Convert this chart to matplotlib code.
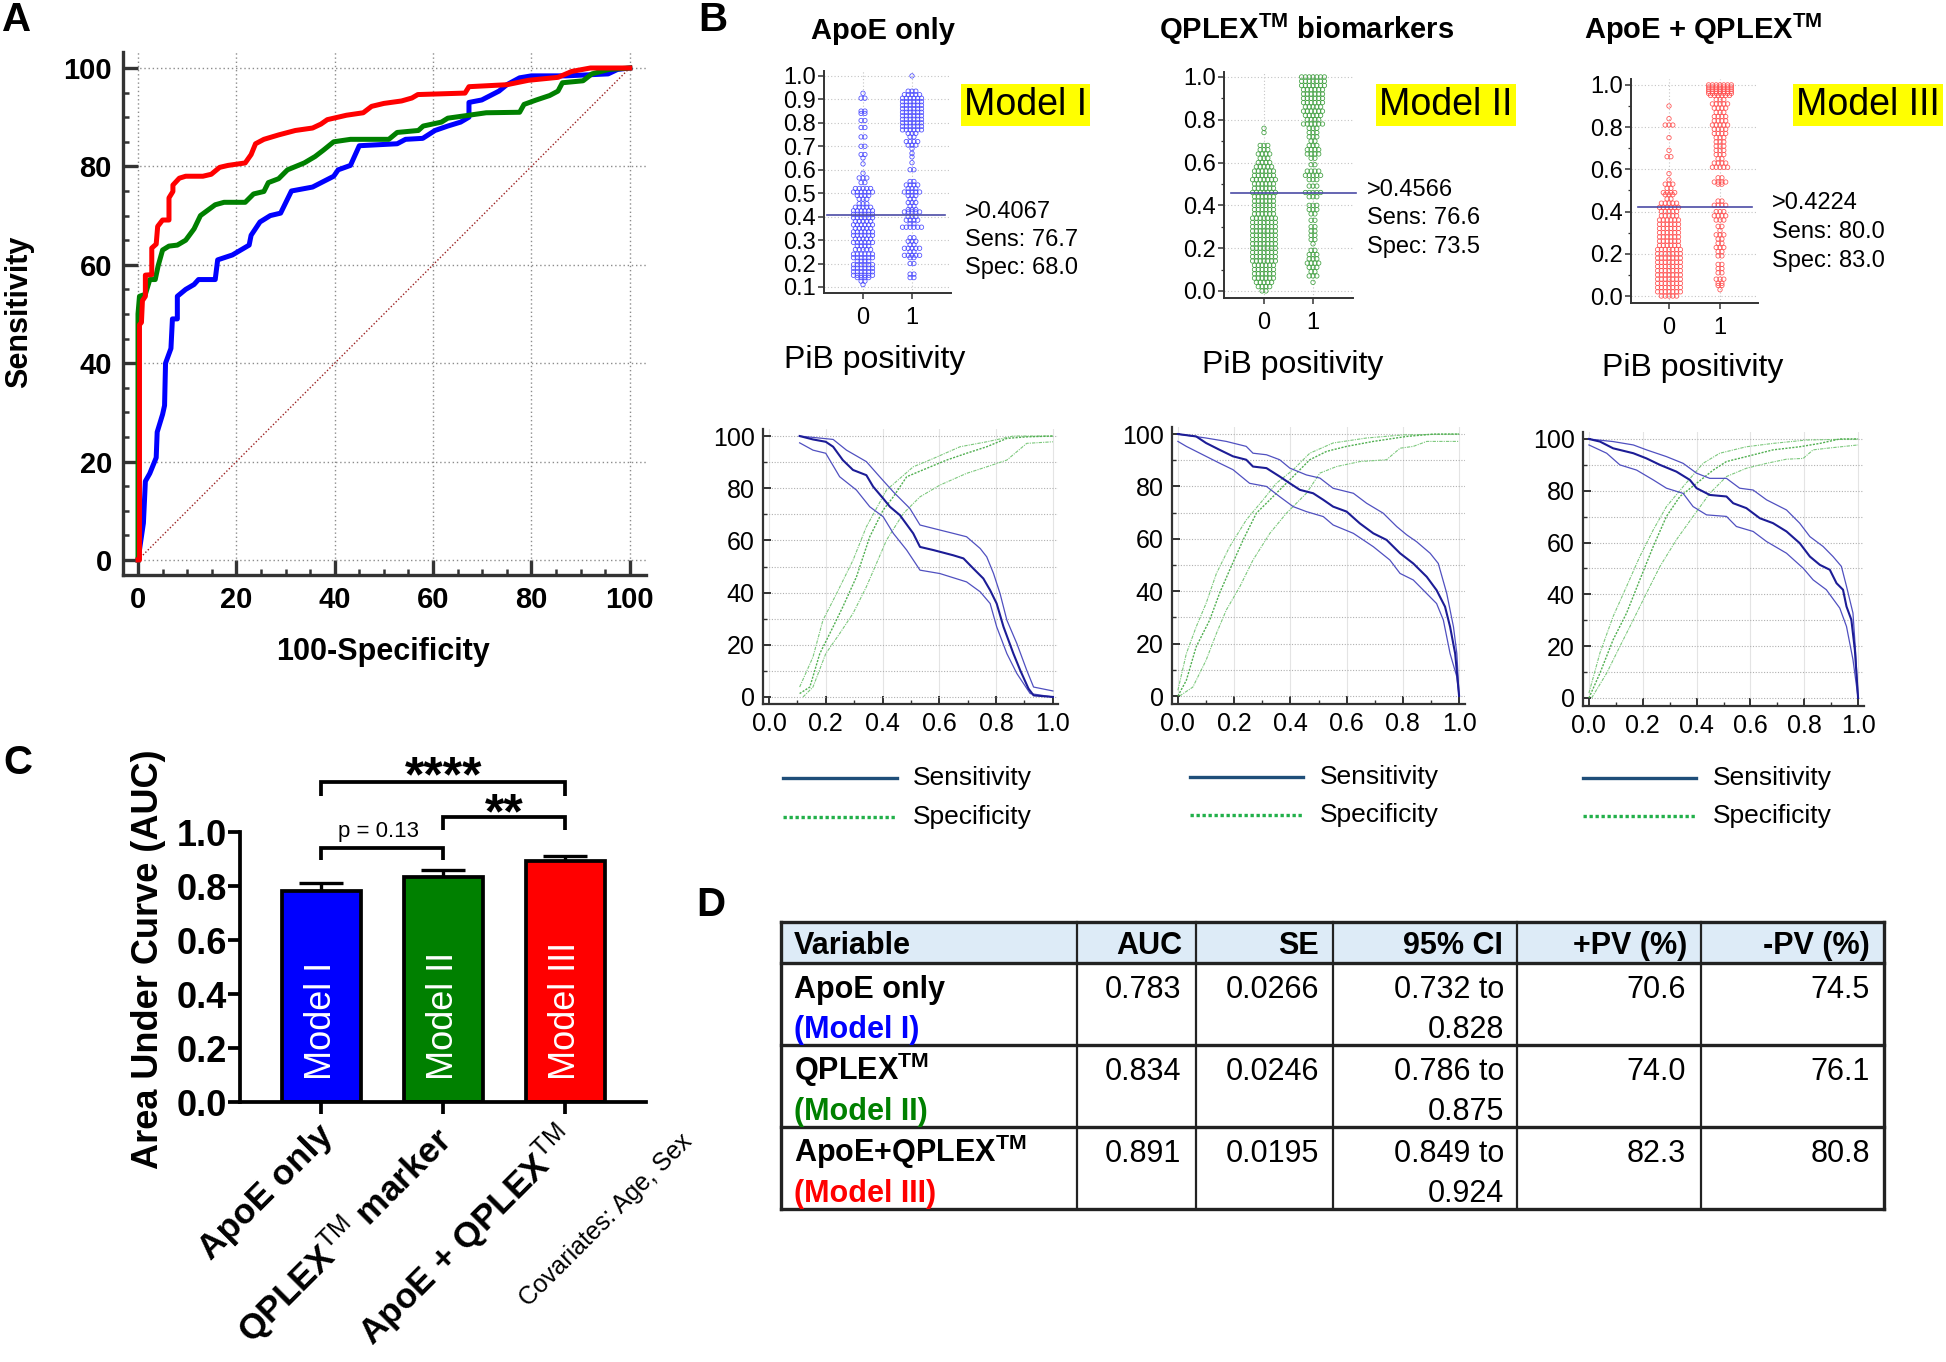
import numpy as np
import matplotlib
matplotlib.use("Agg")
import matplotlib.pyplot as plt
from matplotlib.lines import Line2D
from matplotlib.patches import Rectangle
from matplotlib.ticker import MultipleLocator

# ======================= DATA =======================
# Panel A: ROC curves (100-Specificity, Sensitivity)
roc_apoe_fpr = [0, 1.1, 1.5, 2.4, 3.7, 3.9, 5.0, 5.4, 5.6, 6.7, 7.0, 8.0, 8.0, 9.7, 11.4, 12.3, 15.7, 16.2, 19.2, 22.6,
                23.0, 24.8, 26.9, 29.0, 31.2, 35.5, 39.8, 40.7, 43.2, 45.0, 52.7, 54.4, 57.9, 60.4, 63.0, 65.6, 67.3,
                67.3, 69.9, 73.4, 75.0, 77.6, 80.0, 87.0, 95.6, 97.5, 100]
roc_apoe_tpr = [0, 7.5, 16, 17.6, 20.8, 26, 29.6, 31.4, 40, 43, 49, 49, 53.6, 55, 56, 57, 57, 61, 62, 64,
                66, 68.7, 70, 70.5, 75, 75.8, 78, 79.3, 80.2, 84.2, 84.6, 85.5, 85.7, 87.3, 88.2, 89, 90,
                93, 93.5, 95.3, 96.6, 98, 98.4, 98.4, 98.8, 99.7, 100]
roc_qplex_fpr = [0, 0, 0, 0.3, 1.5, 2.4, 3.5, 4.1, 5.0, 6.3, 8.0, 9.7, 11.4, 12.7, 15.7, 17.5, 21.8, 23.5, 25.6, 26.5,
                 28.6, 30.4, 33.8, 36.0, 37.7, 39.8, 43.2, 51.0, 52.7, 57.0, 58.0, 61.7, 63.0, 67.3, 70.8, 77.6,
                 78.5, 81.0, 83.7, 85.4, 86.3, 90.5, 92.3, 95.7, 100]
roc_qplex_tpr = [0, 48, 50, 53.6, 54, 57, 57, 59.8, 63, 63.8, 64, 65, 67.3, 70, 72.2, 72.7, 72.7, 74.4, 74.9, 76.7,
                 77.5, 79.3, 80.7, 82, 83.3, 85, 85.5, 85.5, 86.9, 87.3, 88.2, 89, 89.8, 90.4, 90.9, 91,
                 92.6, 93.5, 94.4, 95.3, 97, 97.4, 98.8, 99.7, 100]
roc_combo_fpr = [0, 0.3, 0.3, 0.7, 0.9, 1.5, 1.5, 2.8, 2.8, 3.7, 4.0, 5.0, 6.3, 6.3, 7.1, 7.1, 8.4, 9.7, 13.2, 14.9,
                 16.6, 18.3, 21.8, 23.0, 23.9, 25.6, 28.6, 32.0, 35.5, 37.2, 38.5, 42.4, 45.8, 47.5, 50.0, 53.6,
                 55.7, 56.9, 66.5, 67.3, 75.0, 79.4, 85.4, 88.2, 92.0, 100]
roc_combo_tpr = [0, 0, 47.8, 48.3, 52.7, 53.6, 57.9, 58, 63.4, 64.2, 67.8, 69.1, 69.1, 73.6, 74.9, 76.2, 77.6, 78, 78,
                 78.4, 79.8, 80.2, 80.7, 82.4, 84.6, 85.5, 86.4, 87.3, 87.8, 88.6, 89.5, 90.4, 90.9, 92.2, 92.8,
                 93.3, 93.9, 94.6, 94.9, 96.2, 96.6, 97.5, 98.1, 99.3, 100, 100]

# Panel B (top): dot plots, rows of predicted probability and number of subjects in each row
m1_neg_vals = [0.926, 0.905, 0.85, 0.84, 0.81, 0.78, 0.74, 0.70, 0.665, 0.65, 0.625, 0.585, 0.565, 0.545, 0.52,
               0.505, 0.49, 0.475, 0.455, 0.44, 0.425, 0.41, 0.395, 0.38, 0.365, 0.35, 0.335, 0.32, 0.305, 0.29,
               0.275, 0.26, 0.24, 0.225, 0.21, 0.195, 0.18, 0.165, 0.15, 0.14, 0.125, 0.11]
m1_neg_counts = [1, 2, 2, 2, 2, 2, 2, 2, 2, 1, 1, 1, 3, 2, 5, 6, 4, 3, 3, 5, 6, 6, 6, 5, 6, 5, 6, 6, 5, 6,
                 4, 5, 6, 6, 4, 6, 6, 6, 6, 4, 2, 1]
m1_pos_vals = [1.0, 0.935, 0.92, 0.905, 0.89, 0.875, 0.86, 0.845, 0.83, 0.815, 0.80, 0.785, 0.77, 0.755, 0.74,
               0.72, 0.705, 0.69, 0.67, 0.655, 0.63, 0.60, 0.55, 0.535, 0.52, 0.505, 0.49, 0.475, 0.46, 0.445,
               0.43, 0.42, 0.40, 0.385, 0.37, 0.355, 0.31, 0.295, 0.28, 0.265, 0.25, 0.235, 0.225, 0.20, 0.155, 0.14]
m1_pos_counts = [1, 3, 5, 6, 6, 6, 6, 6, 6, 6, 6, 6, 6, 3, 2, 4, 3, 1, 1, 1, 1, 2, 2, 4, 3, 5, 3, 2, 3, 2,
                 3, 5, 3, 4, 2, 6, 2, 3, 2, 5, 2, 5, 2, 2, 2, 2]
m2_neg_vals = [0.76, 0.74, 0.68, 0.66, 0.64, 0.62, 0.60, 0.58, 0.56, 0.54, 0.52, 0.50, 0.48, 0.46, 0.44, 0.42,
               0.40, 0.38, 0.36, 0.34, 0.32, 0.30, 0.28, 0.26, 0.24, 0.22, 0.20, 0.18, 0.16, 0.14, 0.12, 0.10,
               0.08, 0.06, 0.04, 0.02, 0.00]
m2_neg_counts = [1, 1, 3, 3, 4, 3, 4, 5, 6, 6, 7, 6, 6, 7, 6, 6, 6, 6, 6, 7, 7, 7, 7, 7, 7, 7, 7, 7, 7, 7,
                 6, 6, 6, 6, 5, 4, 2]
m2_pos_vals = [1.0, 0.98, 0.96, 0.94, 0.92, 0.90, 0.88, 0.86, 0.84, 0.82, 0.80, 0.78, 0.76, 0.74, 0.72, 0.70,
               0.68, 0.66, 0.64, 0.62, 0.59, 0.56, 0.54, 0.52, 0.49, 0.46, 0.44, 0.40, 0.38, 0.36, 0.33, 0.30,
               0.28, 0.26, 0.24, 0.22, 0.19, 0.17, 0.15, 0.13, 0.11, 0.09, 0.07, 0.04]
m2_pos_counts = [7, 7, 7, 6, 6, 6, 6, 5, 6, 5, 4, 6, 3, 3, 3, 2, 3, 4, 4, 2, 2, 4, 5, 3, 3, 5, 3, 3, 3, 2,
                 2, 2, 2, 2, 2, 1, 2, 3, 3, 4, 3, 2, 3, 1]
m3_neg_vals = [0.90, 0.84, 0.81, 0.75, 0.69, 0.66, 0.58, 0.55, 0.53, 0.51, 0.49, 0.48, 0.46, 0.44, 0.42, 0.40,
               0.38, 0.36, 0.34, 0.32, 0.30, 0.28, 0.26, 0.24, 0.22, 0.20, 0.18, 0.16, 0.14, 0.12, 0.10, 0.08,
               0.06, 0.04, 0.02, 0.00]
m3_neg_counts = [1, 1, 3, 1, 1, 2, 1, 1, 3, 2, 4, 3, 2, 5, 6, 5, 5, 6, 6, 6, 6, 6, 6, 6, 7, 7, 7, 7, 7, 7,
                 7, 7, 7, 7, 7, 5]
m3_pos_vals = [1.0, 0.99, 0.98, 0.97, 0.96, 0.95, 0.93, 0.91, 0.89, 0.87, 0.85, 0.83, 0.81, 0.79, 0.77, 0.75,
               0.73, 0.71, 0.69, 0.67, 0.65, 0.63, 0.61, 0.56, 0.54, 0.53, 0.45, 0.43, 0.40, 0.38, 0.36, 0.33,
               0.31, 0.29, 0.27, 0.25, 0.23, 0.21, 0.19, 0.15, 0.13, 0.11, 0.08, 0.06, 0.05, 0.03]
m3_pos_counts = [7, 7, 7, 7, 7, 6, 3, 5, 4, 3, 4, 4, 5, 4, 4, 3, 3, 3, 3, 3, 2, 4, 5, 2, 4, 2, 2, 4, 3, 4,
                 3, 2, 1, 3, 2, 2, 3, 2, 2, 2, 2, 2, 3, 2, 2, 1]

model_titles = ["ApoE only", r"QPLEX$^{\mathbf{TM}}$ biomarkers", r"ApoE + QPLEX$^{\mathbf{TM}}$"]
model_names = ["Model I", "Model II", "Model III"]
cutoffs = [0.4067, 0.4566, 0.4224]
cut_sens = [76.7, 76.6, 80.0]
cut_spec = [68.0, 73.5, 83.0]

# Panel B (bottom): sensitivity / specificity vs. criterion, with 95% CI
m1_sens_x = [0.108, 0.155, 0.2, 0.226, 0.26, 0.296, 0.343, 0.367, 0.402, 0.426, 0.461, 0.508, 0.532, 0.579,
             0.649, 0.685, 0.72, 0.755, 0.779, 0.802, 0.826, 0.861, 0.885, 0.914, 0.932, 1.0]
m1_sens_y = [100, 98.7, 97.8, 95.9, 90.8, 87, 85, 80.6, 76.1, 72.9, 69.7, 62.7, 57.5, 56.3, 54.3, 53.1, 49.2,
             45.4, 40.9, 35.8, 26.9, 16.6, 10.2, 3.2, 0.6, 0]
m1_sens_hi_x = [0.108, 0.226, 0.273, 0.343, 0.39, 0.438, 0.496, 0.532, 0.579, 0.649, 0.696, 0.744, 0.767, 0.791,
                0.814, 0.838, 0.873, 0.908, 0.932, 1.0]
m1_sens_hi_y = [100, 98.7, 94.6, 90.2, 84.4, 78.6, 72.3, 65.9, 64.6, 62.7, 61.4, 56.9, 53.7, 47.3, 39.6, 29.4,
                20.5, 10.2, 3.8, 2.3]
m1_sens_lo_x = [0.108, 0.155, 0.2, 0.249, 0.308, 0.355, 0.402, 0.438, 0.485, 0.532, 0.602, 0.696, 0.744, 0.779,
                0.802, 0.838, 0.873, 0.92, 1.0]
m1_sens_lo_y = [97.4, 94.6, 93.4, 84.4, 79.3, 72.9, 69.1, 62.7, 56.3, 48.6, 47.3, 44.1, 40.3, 35.8, 26.9, 16.6,
                9, 1.3, 0]
m1_spec_x = [0.108, 0.144, 0.179, 0.226, 0.26, 0.308, 0.355, 0.402, 0.438, 0.485, 0.555, 0.626, 0.696, 0.767,
             0.838, 0.908, 1.0]
m1_spec_y = [1.3, 3.8, 16.6, 26.9, 34.5, 46, 61.4, 71.6, 76.7, 84.4, 87.6, 90.8, 93.4, 95.9, 99.1, 99.7, 100]
m1_spec_hi_x = [0.108, 0.155, 0.19, 0.238, 0.296, 0.343, 0.414, 0.508, 0.579, 0.673, 0.767, 0.861, 1.0]
m1_spec_hi_y = [3.8, 15.3, 29.4, 39.6, 52.4, 65.2, 79.3, 88.2, 91.4, 95.9, 97.8, 100, 100]
m1_spec_lo_x = [0.12, 0.155, 0.2, 0.249, 0.296, 0.343, 0.414, 0.473, 0.532, 0.602, 0.696, 0.767, 0.838, 0.908, 1.0]
m1_spec_lo_y = [0, 3.8, 16.6, 24.3, 32, 42.2, 60.1, 70.3, 76.7, 81.2, 85.7, 88.2, 90.8, 97.2, 97.8]

m2_sens_x = [0, 0.065, 0.1, 0.148, 0.196, 0.243, 0.267, 0.315, 0.362, 0.398, 0.434, 0.481, 0.517, 0.552, 0.6,
             0.647, 0.695, 0.742, 0.79, 0.837, 0.885, 0.92, 0.95, 0.968, 0.986, 1.0]
m2_sens_y = [100, 99.1, 96.6, 94, 91.5, 90.2, 87.6, 87, 83.8, 81.2, 78.7, 77.4, 74.9, 72.3, 70.4, 65.9, 62.1,
             59.6, 54.5, 50.6, 45.5, 40.4, 34.1, 26.4, 16.2, 0]
m2_sens_hi_x = [0, 0.1, 0.172, 0.243, 0.267, 0.315, 0.362, 0.398, 0.457, 0.505, 0.552, 0.624, 0.671, 0.73, 0.778,
                0.814, 0.849, 0.897, 0.926, 0.956, 0.98, 0.992, 1.0]
m2_sens_hi_y = [100, 98.5, 97.2, 95.3, 92.7, 92.1, 90.2, 87, 84.4, 83.2, 79.3, 77.4, 73.6, 69.8, 64.7, 61.5,
                58.9, 54.5, 50.6, 39.2, 26.4, 16.2, 0]
m2_sens_lo_x = [0, 0.03, 0.1, 0.148, 0.196, 0.255, 0.315, 0.362, 0.41, 0.457, 0.517, 0.552, 0.624, 0.695, 0.754,
                0.79, 0.837, 0.873, 0.92, 0.944, 0.968, 0.992, 1.0]
m2_sens_lo_y = [97.2, 95.3, 91.5, 88.9, 86.4, 81.2, 80, 76.1, 72.3, 70.4, 68.5, 65.3, 62.1, 57, 51.9, 46.8,
                44.3, 40.4, 35.3, 29, 16.2, 7.3, 0]
m2_spec_x = [0, 0.03, 0.065, 0.113, 0.148, 0.184, 0.232, 0.279, 0.327, 0.374, 0.422, 0.469, 0.529, 0.6, 0.695,
             0.814, 0.909, 1.0]
m2_spec_y = [0, 6, 18.8, 29, 39.2, 48.1, 59.6, 69.8, 74.9, 80, 85.1, 90.2, 93.4, 95.3, 97.2, 99.1, 100, 100]
m2_spec_hi_x = [0, 0.03, 0.065, 0.1, 0.137, 0.184, 0.243, 0.303, 0.35, 0.41, 0.469, 0.552, 0.671, 0.802, 1.0]
m2_spec_hi_y = [2.2, 16.2, 26.4, 35.3, 46.8, 57, 67.2, 74.9, 81.2, 86.4, 92.7, 96.6, 98.5, 99.7, 100]
m2_spec_lo_x = [0.006, 0.053, 0.1, 0.137, 0.172, 0.22, 0.267, 0.327, 0.386, 0.457, 0.505, 0.564, 0.647, 0.742,
                0.79, 0.837, 0.885, 1.0]
m2_spec_lo_y = [0, 3.4, 13.6, 23.9, 32.8, 41.7, 51.9, 62.1, 69.8, 77.4, 85.1, 87.6, 89.5, 90.2, 94.6, 95.3,
                97.2, 97.2]

m3_sens_x = [0, 0.041, 0.09, 0.165, 0.214, 0.264, 0.325, 0.375, 0.4, 0.449, 0.511, 0.536, 0.585, 0.635, 0.684,
             0.734, 0.783, 0.821, 0.858, 0.895, 0.92, 0.944, 0.957, 0.975, 0.988, 1.0]
m3_sens_y = [100, 99, 96.4, 94.5, 92.5, 90, 87.4, 84.2, 81, 78.4, 77.8, 75.2, 73.3, 69.4, 67.5, 64.3, 59.8,
             54.6, 51.4, 49.5, 44.3, 41.8, 35.3, 30.2, 18.6, 0]
m3_sens_hi_x = [0, 0.09, 0.165, 0.214, 0.288, 0.35, 0.4, 0.449, 0.511, 0.56, 0.61, 0.66, 0.734, 0.783, 0.821,
                0.87, 0.907, 0.938, 0.957, 0.981, 0.991, 1.0]
m3_sens_hi_y = [100, 99, 97.7, 95.8, 93.2, 90.6, 86.8, 84.8, 84.8, 81, 80.3, 76.5, 72.6, 67.5, 62.3, 58.5,
                54.6, 50.8, 43.1, 32.8, 17.4, 0]
m3_sens_lo_x = [0, 0.066, 0.115, 0.177, 0.239, 0.288, 0.35, 0.387, 0.437, 0.511, 0.548, 0.61, 0.66, 0.734,
                0.796, 0.833, 0.882, 0.932, 0.957, 0.981, 1.0]
m3_sens_lo_y = [97.7, 94.5, 90, 88, 84.2, 81, 79, 73.9, 70.7, 70.1, 66.2, 64.3, 60.4, 55.9, 50.1, 45.6, 41.8,
                34.7, 27.6, 14.8, 0]
m3_spec_x = [0, 0.041, 0.09, 0.14, 0.189, 0.239, 0.288, 0.338, 0.4, 0.462, 0.511, 0.585, 0.684, 0.783, 0.858,
             0.932, 1.0]
m3_spec_y = [0, 9.6, 22.5, 32.8, 45.6, 58.5, 70.1, 77.8, 82.9, 88, 91.3, 93.2, 95.8, 97, 98.3, 100, 100]
m3_spec_hi_x = [0, 0.041, 0.09, 0.14, 0.189, 0.239, 0.288, 0.35, 0.424, 0.486, 0.585, 0.684, 0.808, 1.0]
m3_spec_hi_y = [1.9, 17.4, 31.5, 43.1, 54.6, 64.9, 73.9, 81.6, 90.6, 94.5, 97, 98.3, 99.6, 100]
m3_spec_lo_x = [0.01, 0.066, 0.115, 0.165, 0.214, 0.264, 0.325, 0.387, 0.449, 0.511, 0.585, 0.66, 0.734, 0.796,
                0.833, 0.882, 1.0]
m3_spec_lo_y = [0, 9.6, 19.9, 30.2, 40.5, 50.8, 61.1, 70.1, 79, 85.5, 88.7, 90.6, 92.2, 92.5, 95.8, 96.4, 97.7]

# Panel C: AUC bars
c_labels = ["ApoE only", r"QPLEX$^{\mathrm{TM}}$ marker", r"ApoE + QPLEX$^{\mathrm{TM}}$"]
auc_vals = [0.783, 0.834, 0.891]
se_vals = [0.0266, 0.0246, 0.0195]

# Panel D: table
table_vars = ["ApoE only", r"QPLEX$^{\mathbf{TM}}$", r"ApoE+QPLEX$^{\mathbf{TM}}$"]
table_models = ["(Model I)", "(Model II)", "(Model III)"]
table_headers = ["Variable", "AUC", "SE", "95% CI", "+PV (%)", "-PV (%)"]
ci_low = [0.732, 0.786, 0.849]
ci_high = [0.828, 0.875, 0.924]
ppv_vals = [70.6, 74.0, 82.3]
npv_vals = [74.5, 76.1, 80.8]

model_colors = ["#0000ff", "#008000", "#ff0000"]
dot_colors = ["#4a4aff", "#3f9f3f", "#ff5050"]

# ======================= FIGURE =======================
W, H = 1946, 1362
plt.rcParams['font.family'] = ['Liberation Sans', 'DejaVu Sans']
plt.rcParams['mathtext.fontset'] = 'custom'
plt.rcParams['mathtext.rm'] = 'Liberation Sans'
plt.rcParams['mathtext.bf'] = 'Liberation Sans:bold'
plt.rcParams['mathtext.it'] = 'Liberation Sans:italic'
plt.rcParams['axes.unicode_minus'] = False

fig = plt.figure(figsize=(W / 100, H / 100), dpi=100)
fig.patch.set_facecolor('white')
DARK = '#333333'


def add_ax(l, t, r, b):
    return fig.add_axes([l / W, 1 - b / H, (r - l) / W, (b - t) / H])


def ftext(x, y, s, **kw):
    kw.setdefault('ha', 'center')
    kw.setdefault('va', 'center')
    return fig.text(x / W, 1 - y / H, s, **kw)


def fline(x0, x1, y, **kw):
    fig.add_artist(Line2D([x0 / W, x1 / W], [1 - y / H, 1 - y / H], transform=fig.transFigure, **kw))


def clean(ax, lw, color=DARK):
    for s in ('top', 'right'):
        ax.spines[s].set_visible(False)
    for s in ('left', 'bottom'):
        ax.spines[s].set_linewidth(lw)
        ax.spines[s].set_color(color)


# ---------------- Panel A ----------------
axA = add_ax(123, 52, 646, 575)
clean(axA, 2.4)
axA.set_xlim(-3.05, 103.3)
axA.set_ylim(-3.05, 103.25)
axA.set_axisbelow(True)
axA.grid(True, which='major', ls=(0, (1, 2)), color='#8c8c8c', lw=1.0)
axA.plot([0, 100], [0, 100], color='#9b2020', lw=1.0, ls=(0, (1, 1.5)), zorder=2)
axA.plot(roc_apoe_fpr, roc_apoe_tpr, color=model_colors[0], lw=3.6, zorder=3)
axA.plot(roc_qplex_fpr, roc_qplex_tpr, color=model_colors[1], lw=3.6, zorder=4)
axA.plot(roc_combo_fpr, roc_combo_tpr, color=model_colors[2], lw=3.6, zorder=5)
ticksA = [0, 20, 40, 60, 80, 100]
axA.set_xticks(ticksA)
axA.set_yticks(ticksA)
axA.xaxis.set_minor_locator(MultipleLocator(5))
axA.yaxis.set_minor_locator(MultipleLocator(5))
axA.tick_params(which='major', direction='in', length=10.5, width=2.4, color=DARK, labelsize=21, pad=8)
axA.tick_params(which='minor', direction='in', length=4.5, width=1.8, color=DARK)
for t in axA.get_xticklabels() + axA.get_yticklabels():
    t.set_fontweight('bold')
ftext(19, 312, 'Sensitivity', rotation=90, fontsize=22, fontweight='bold')
ftext(383, 652, '100-Specificity', fontsize=22, fontweight='bold')
ftext(17, 20, 'A', fontsize=29, fontweight='bold')

# ---------------- Panel B top: dot plots ----------------
dot_layout = [
    dict(box=(824, 71, 951, 293), x0px=863, x1px=912, xlim=(-0.796, 1.796), ylim=(0.0744, 1.021),
         yticks=[0.1, 0.2, 0.3, 0.4, 0.5, 0.6, 0.7, 0.8, 0.9, 1.0], yminor=None, cutx=(-0.73, 1.67),
         title_xy=(883, 39), box_xy=(1025, 105), ann_x=965, ann_y=(212, 240, 268), pib_xy=(875, 360),
         neg=(m1_neg_vals, m1_neg_counts), pos=(m1_pos_vals, m1_pos_counts)),
    dict(box=(1224, 72, 1353, 298), x0px=1264, x1px=1313, xlim=(-0.816, 1.816), ylim=(-0.033, 1.023),
         yticks=[0.0, 0.2, 0.4, 0.6, 0.8, 1.0], yminor=0.1, cutx=(-0.68, 1.88),
         title_xy=(1307, 39), box_xy=(1446, 105), ann_x=1367, ann_y=(190, 218, 247), pib_xy=(1293, 365),
         neg=(m2_neg_vals, m2_neg_counts), pos=(m2_pos_vals, m2_pos_counts)),
    dict(box=(1631, 79, 1758, 303), x0px=1669, x1px=1720, xlim=(-0.745, 1.745), ylim=(-0.033, 1.028),
         yticks=[0.0, 0.2, 0.4, 0.6, 0.8, 1.0], yminor=0.1, cutx=(-0.61, 1.63),
         title_xy=(1703, 39), box_xy=(1868, 105), ann_x=1772, ann_y=(203, 232, 261), pib_xy=(1693, 368),
         neg=(m3_neg_vals, m3_neg_counts), pos=(m3_pos_vals, m3_pos_counts)),
]

for i, lay in enumerate(dot_layout):
    ax = add_ax(*lay['box'])
    clean(ax, 1.4)
    ax.set_xlim(*lay['xlim'])
    ax.set_ylim(*lay['ylim'])
    ax.set_axisbelow(True)
    ax.set_xticks([0, 1])
    ax.set_xticklabels(['0', '1'])
    ax.set_yticks(lay['yticks'])
    ax.set_yticklabels([f'{v:.1f}' for v in lay['yticks']])
    if lay['yminor']:
        ax.yaxis.set_minor_locator(MultipleLocator(lay['yminor']))
    ax.grid(True, which='major', ls=(0, (1, 2)), color='#c4c4c4', lw=0.8)
    ax.tick_params(which='major', direction='out', length=4, width=1.1, color=DARK, labelsize=17, pad=2)
    ax.tick_params(which='minor', direction='out', length=2.5, width=0.9, color=DARK)
    ax.tick_params(axis='x', pad=6)
    dx = 3.8 / (lay['x1px'] - lay['x0px'])
    for gx, (vals, cnts) in ((0, lay['neg']), (1, lay['pos'])):
        xs, ys = [], []
        for v, c in zip(vals, cnts):
            offs = (np.arange(c) - (c - 1) / 2.0) * dx
            xs.extend(list(gx + offs))
            ys.extend([v] * c)
        ax.scatter(xs, ys, s=10, facecolors='none', edgecolors=dot_colors[i], linewidths=0.55, zorder=3)
    ax.plot(lay['cutx'], [cutoffs[i], cutoffs[i]], color='#4b4ba6', lw=1.2, zorder=4, clip_on=False)

    ftext(*lay['title_xy'], model_titles[i], fontsize=21, fontweight='bold', va='baseline')
    ftext(*lay['box_xy'], model_names[i], fontsize=27,
          bbox=dict(boxstyle='square,pad=0.08', facecolor='#ffff00', edgecolor='none'))
    ann = [f'>{cutoffs[i]:.4f}', f'Sens: {cut_sens[i]:.1f}', f'Spec: {cut_spec[i]:.1f}']
    for s, yy in zip(ann, lay['ann_y']):
        ftext(lay['ann_x'], yy, s, fontsize=17, ha='left')
    ftext(*lay['pib_xy'], 'PiB positivity', fontsize=23)

ftext(713, 20, 'B', fontsize=29, fontweight='bold')

# ---------------- Panel B bottom: sens/spec curves ----------------
curve_layout = [
    dict(box=(763, 429, 1058, 704), xlim=(-0.021, 1.018), ylim=(-2.7, 102.7), leg_x=(783, 897), leg_tx=913,
         leg_y=(778, 817),
         sens=(m1_sens_x, m1_sens_y), sens_hi=(m1_sens_hi_x, m1_sens_hi_y), sens_lo=(m1_sens_lo_x, m1_sens_lo_y),
         spec=(m1_spec_x, m1_spec_y), spec_hi=(m1_spec_hi_x, m1_spec_hi_y), spec_lo=(m1_spec_lo_x, m1_spec_lo_y)),
    dict(box=(1172, 427, 1465, 704), xlim=(-0.021, 1.021), ylim=(-3.05, 102.7), leg_x=(1190, 1303), leg_tx=1320,
         leg_y=(777, 815),
         sens=(m2_sens_x, m2_sens_y), sens_hi=(m2_sens_hi_x, m2_sens_hi_y), sens_lo=(m2_sens_lo_x, m2_sens_lo_y),
         spec=(m2_spec_x, m2_spec_y), spec_hi=(m2_spec_hi_x, m2_spec_hi_y), spec_lo=(m2_spec_lo_x, m2_spec_lo_y)),
    dict(box=(1583, 432, 1864, 706), xlim=(-0.022, 1.022), ylim=(-3.1, 102.7), leg_x=(1583, 1696), leg_tx=1713,
         leg_y=(778, 816),
         sens=(m3_sens_x, m3_sens_y), sens_hi=(m3_sens_hi_x, m3_sens_hi_y), sens_lo=(m3_sens_lo_x, m3_sens_lo_y),
         spec=(m3_spec_x, m3_spec_y), spec_hi=(m3_spec_hi_x, m3_spec_hi_y), spec_lo=(m3_spec_lo_x, m3_spec_lo_y)),
]

for lay in curve_layout:
    ax = add_ax(*lay['box'])
    clean(ax, 1.6)
    ax.set_xlim(*lay['xlim'])
    ax.set_ylim(*lay['ylim'])
    ax.set_axisbelow(True)
    ax.set_xticks([0.0, 0.2, 0.4, 0.6, 0.8, 1.0])
    ax.set_xticklabels(['0.0', '0.2', '0.4', '0.6', '0.8', '1.0'])
    ax.set_yticks([0, 20, 40, 60, 80, 100])
    ax.xaxis.set_minor_locator(MultipleLocator(0.1))
    ax.yaxis.set_minor_locator(MultipleLocator(10))
    ax.grid(True, which='both', axis='y', ls=(0, (1, 1.5)), color='#b0b0b0', lw=0.8)
    ax.grid(True, which='major', axis='x', ls='-', color='#e4e4e4', lw=0.8)
    ax.tick_params(which='major', direction='in', length=5.5, width=1.4, color=DARK, labelsize=18, pad=6)
    ax.tick_params(which='minor', direction='in', length=3, width=1.0, color=DARK)
    ax.plot(*lay['spec_hi'], color='#7cc87c', lw=0.8, ls=(0, (3, 1, 1, 1)), zorder=2)
    ax.plot(*lay['spec_lo'], color='#7cc87c', lw=0.8, ls=(0, (3, 1, 1, 1)), zorder=2)
    ax.plot(*lay['spec'], color='#52b052', lw=1.0, ls=(0, (1.5, 1)), zorder=2)
    ax.plot(*lay['sens_hi'], color='#5050c0', lw=0.9, zorder=3)
    ax.plot(*lay['sens_lo'], color='#5050c0', lw=0.9, zorder=3)
    ax.plot(*lay['sens'], color='#1c1c96', lw=1.5, zorder=4)
    fline(lay['leg_x'][0], lay['leg_x'][1], lay['leg_y'][0], color='#1f4e79', lw=2.4)
    fline(lay['leg_x'][0], lay['leg_x'][1], lay['leg_y'][1], color='#22b04a', lw=2.4, ls=(0, (1, 0.8)))
    ftext(lay['leg_tx'], lay['leg_y'][0], 'Sensitivity', fontsize=19, ha='left')
    ftext(lay['leg_tx'], lay['leg_y'][1], 'Specificity', fontsize=19, ha='left')

# ---------------- Panel C: AUC bars ----------------
C_LEFT, C_TOP, C_RIGHT, C_BOTTOM = 240, 832, 646, 1102
axC = add_ax(C_LEFT, C_TOP, C_RIGHT, C_BOTTOM)
clean(axC, 2.7, 'black')
xC = np.arange(len(auc_vals))
axC.errorbar(xC, auc_vals, yerr=[np.zeros(len(se_vals)), se_vals], fmt='none', ecolor='black',
             elinewidth=2.4, capsize=16, capthick=2.4, zorder=1)
axC.bar(xC, auc_vals, width=0.65, color=model_colors, edgecolor='black', linewidth=2.7, zorder=2)
axC.set_xlim(-0.668, 2.66)
axC.set_ylim(0, 1.0)
axC.set_yticks([0.0, 0.2, 0.4, 0.6, 0.8, 1.0])
axC.set_yticklabels([f'{v:.1f}' for v in [0.0, 0.2, 0.4, 0.6, 0.8, 1.0]])
axC.set_xticks(xC)
axC.tick_params(axis='x', labelbottom=False)
axC.tick_params(which='major', direction='out', length=8.5, width=2.7, color='black', labelsize=26, pad=1)
for t in axC.get_yticklabels():
    t.set_fontweight('bold')
for i, name in enumerate(model_names):
    axC.text(xC[i], 0.08, name, rotation=90, ha='center', va='bottom', color='white', fontsize=26, zorder=3)

# rotated category labels: top-right corner of each label sits just below its tick
fig.canvas.draw()
for i, lab in enumerate(c_labels):
    px, _ = axC.transData.transform((xC[i] - 0.08, 0))
    ftext(px + 28, C_BOTTOM + 17, lab, rotation=45, ha='right', va='top',
          fontsize=25.5, fontweight='bold')


def bracket(x0, x1, y, drop):
    axC.plot([x0, x0, x1, x1], [y - drop, y, y, y - drop], color='black', lw=2.7, clip_on=False,
             solid_capstyle='butt', solid_joinstyle='miter')


bracket(0, 2, 1.185, 0.052)
bracket(1, 2, 1.056, 0.049)
bracket(0, 1, 0.94, 0.044)
axC.text(1.0, 1.152, '****', ha='center', va='baseline', fontsize=36, fontweight='bold', clip_on=False)
axC.text(1.5, 1.015, '**', ha='center', va='baseline', fontsize=36, fontweight='bold', clip_on=False)
axC.text(0.47, 1.0, 'p = 0.13', ha='center', va='center', fontsize=16, clip_on=False)
ftext(148, 959, 'Area Under Curve (AUC)', rotation=90, fontsize=26, fontweight='bold')
ftext(606, 1220, 'Covariates: Age, Sex', rotation=45, fontsize=18)
ftext(18, 763, 'C', fontsize=29, fontweight='bold')

# ---------------- Panel D: table ----------------
axT = fig.add_axes([0, 0, 1, 1])
axT.set_xlim(0, W)
axT.set_ylim(H, 0)
axT.axis('off')
axT.patch.set_alpha(0)
cols = [781, 1077, 1196, 1333, 1517, 1701, 1884]
rows = [922, 963, 1045, 1127, 1209]
axT.add_patch(Rectangle((cols[0], rows[0]), cols[-1] - cols[0], rows[1] - rows[0],
                        facecolor='#ddebf7', edgecolor='none', zorder=0))
for yv in rows:
    axT.plot([cols[0], cols[-1]], [yv, yv], color='#222222', lw=2.4, solid_capstyle='projecting', zorder=2)
for j, xv in enumerate(cols):
    lw = 2.4 if j in (0, len(cols) - 1) else 1.6
    axT.plot([xv, xv], [rows[0], rows[-1]], color='#222222', lw=lw, zorder=2)

TFS = 22
hb = rows[0] + 32
axT.text(cols[0] + 13, hb, table_headers[0], fontsize=TFS, fontweight='bold', ha='left', va='baseline')
for j in range(1, len(table_headers)):
    axT.text(cols[j + 1] - 14, hb, table_headers[j], fontsize=TFS, fontweight='bold', ha='right', va='baseline')

for r in range(3):
    top = rows[r + 1]
    b1 = top + 35
    b2 = top + 75
    axT.text(cols[0] + 13, b1, table_vars[r], fontsize=TFS, fontweight='bold', ha='left', va='baseline')
    axT.text(cols[0] + 13, b2, table_models[r], fontsize=TFS, fontweight='bold', ha='left', va='baseline',
             color=model_colors[r])
    axT.text(cols[2] - 15, b1, f'{auc_vals[r]:.3f}', fontsize=TFS, ha='right', va='baseline')
    axT.text(cols[3] - 14, b1, f'{se_vals[r]:.4f}', fontsize=TFS, ha='right', va='baseline')
    axT.text(cols[4] - 13, b1, f'{ci_low[r]:.3f} to', fontsize=TFS, ha='right', va='baseline')
    axT.text(cols[4] - 13, b2, f'{ci_high[r]:.3f}', fontsize=TFS, ha='right', va='baseline')
    axT.text(cols[5] - 15, b1, f'{ppv_vals[r]:.1f}', fontsize=TFS, ha='right', va='baseline')
    axT.text(cols[6] - 14, b1, f'{npv_vals[r]:.1f}', fontsize=TFS, ha='right', va='baseline')

ftext(711, 905, 'D', fontsize=29, fontweight='bold')

fig.savefig('out.png', dpi=100, facecolor='white')
